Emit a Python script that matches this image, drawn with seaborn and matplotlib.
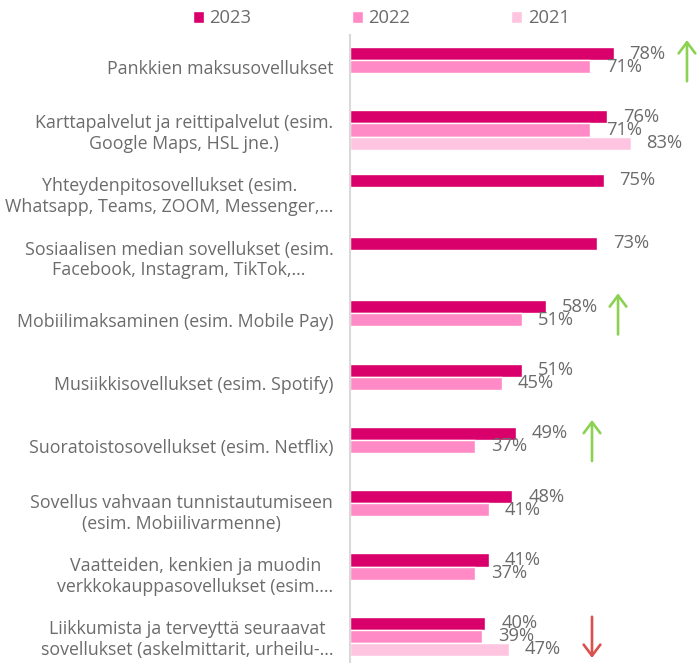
import numpy as np
import pandas as pd
import matplotlib
matplotlib.use("Agg")
import matplotlib.pyplot as plt
import seaborn as sns

categories = [
    "Pankkien maksusovellukset",
    "Karttapalvelut ja reittipalvelut (esim.\nGoogle Maps, HSL jne.)",
    "Yhteydenpitosovellukset (esim.\nWhatsapp, Teams, ZOOM, Messenger,...",
    "Sosiaalisen median sovellukset (esim.\nFacebook, Instagram, TikTok,...",
    "Mobiilimaksaminen (esim. Mobile Pay)",
    "Musiikkisovellukset (esim. Spotify)",
    "Suoratoistosovellukset (esim. Netflix)",
    "Sovellus vahvaan tunnistautumiseen\n(esim. Mobiilivarmenne)",
    "Vaatteiden, kenkien ja muodin\nverkkokauppasovellukset (esim....",
    "Liikkumista ja terveyttä seuraavat\nsovellukset (askelmittarit, urheilu-...",
]
years = ["2023", "2022", "2021"]
values_2023 = [78, 76, 75, 73, 58, 51, 49, 48, 41, 40]
values_2022 = [71, 71, np.nan, np.nan, 51, 45, 37, 41, 37, 39]
values_2021 = [np.nan, 83, np.nan, np.nan, np.nan, np.nan, np.nan, np.nan, np.nan, 47]
trend_up = [0, 4, 6]
trend_down = [9]
colors = ["#d9006c", "#ff8ac6", "#ffc5e0"]

rows = []
for y, vals in zip(years, [values_2023, values_2022, values_2021]):
    for c, v in zip(categories, vals):
        rows.append({"Kategoria": c, "Vuosi": y, "Osuus": v})
df = pd.DataFrame(rows).dropna()

sns.set_theme(style="white")
plt.rcParams["font.family"] = ["Open Sans", "DejaVu Sans"]
text_color = "#6b6b6b"
fs = 12.8

fig = plt.figure(figsize=(6.98, 6.63), dpi=100)
ax = fig.add_axes([350 / 698, 0.0, 338 / 698, 628 / 663])

sns.barplot(data=df, y="Kategoria", x="Osuus", hue="Vuosi", order=categories,
            hue_order=years, palette=colors, orient="h", width=0.62, gap=0,
            saturation=1, ax=ax, errorbar=None)

for cont in ax.containers:
    ax.bar_label(cont, fmt="%d%%", padding=11.5, fontsize=13.2, color=text_color)

ax.set_xlim(0, 100)
ax.set_ylim(9.42, -0.5)
ax.set_xlabel("")
ax.set_ylabel("")
ax.xaxis.set_visible(False)
for s in ["top", "right", "bottom"]:
    ax.spines[s].set_visible(False)
ax.spines["left"].set_color("#d9d9d9")
ax.spines["left"].set_linewidth(1.5)
ax.tick_params(axis="y", length=0, pad=12, labelsize=fs, labelcolor=text_color)
for lbl in ax.get_yticklabels():
    lbl.set_multialignment("center")
    lbl.set_linespacing(1.2)

# trend arrows
arrow_x = {0: 99.7, 4: 79.3, 6: 71.6, 9: 71.6}
for i in trend_up:
    ax.annotate("", xy=(arrow_x[i], i - 0.42), xytext=(arrow_x[i], i + 0.23),
                arrowprops=dict(arrowstyle="->, head_length=0.4, head_width=0.3",
                                color="#8cd152", lw=1.9, mutation_scale=20,
                                shrinkA=0, shrinkB=0),
                annotation_clip=False)
for i in trend_down:
    ax.annotate("", xy=(arrow_x[i], i + 0.34), xytext=(arrow_x[i], i - 0.31),
                arrowprops=dict(arrowstyle="->, head_length=0.4, head_width=0.3",
                                color="#d9504f", lw=1.9, mutation_scale=20,
                                shrinkA=0, shrinkB=0),
                annotation_clip=False)

sns.move_legend(ax, "upper center", bbox_to_anchor=(0.546, 1.0),
                bbox_transform=fig.transFigure, ncol=3, frameon=False, title=None,
                fontsize=13.2, handlelength=0.6, handleheight=0.6,
                handletextpad=0.3, columnspacing=5.5, borderaxespad=0.1)
for t in ax.get_legend().get_texts():
    t.set_color(text_color)

fig.savefig("out.png", dpi=100)
